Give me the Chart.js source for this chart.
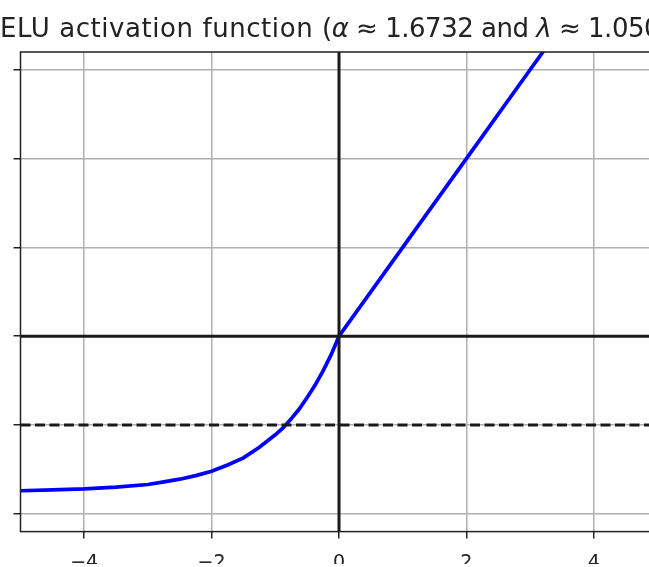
<!DOCTYPE html>
<html>
<head>
<meta charset="utf-8">
<script src="https://cdn.jsdelivr.net/npm/chart.js@4/dist/chart.umd.min.js"></script>
<style>
  html, body { margin: 0; padding: 0; background: #fff; overflow: hidden; }
  #wrap { position: absolute; left: -60px; top: 0; width: 798px; height: 567px; }
</style>
</head>
<body>
<div id="wrap"><canvas id="c" width="798" height="567"></canvas></div>
<script>
// curve
var curveX = [-5, -4.5, -4, -3.5, -3, -2.75, -2.5, -2.25, -2, -1.75, -1.5, -1.25, -1, -0.875, -0.75, -0.625, -0.5, -0.375, -0.25, -0.125, 0, 1, 2, 3, 4, 5];
var curveY = [-1.74, -1.73, -1.72, -1.70, -1.67, -1.64, -1.61, -1.57, -1.52, -1.45, -1.37, -1.25, -1.11, -1.03, -0.93, -0.82, -0.69, -0.55, -0.39, -0.21, 0, 1.0, 2.0, 3.0, 4.0, 5.0];
// reference lines
var hLineX = [-5, 5], hLineY = [0, 0];
var vLineX = [0, 0], vLineY = [-2.2, 3.2];
var dashX = [-5, 5], dashY = [-1, -1];
// axes
var xTicks = [-4, -2, 0, 2, 4];
var yTicks = [-2, -1, 0, 1, 2, 3];
var xRange = [-5, 5], yRange = [-2.2, 3.2];
// title, split where matplotlib switches to mathtext (greek letters italic)
var titleHead = "SELU activation function (";
var titleMath = [["\u03b1", true], [" \u2248 1.6732 and ", false], ["\u03bb", true], [" \u2248 1.0507)", false]];

function pts(xs, ys) {
  return xs.map(function(x, i) { return { x: x, y: ys[i] }; });
}
function fmt(v) { return v < 0 ? "\u2212" + Math.abs(v) : "" + v; }

var spines = {
  id: "spines",
  afterDatasetsDraw: function(chart) {
    var a = chart.chartArea, ctx = chart.ctx;
    ctx.save();
    ctx.strokeStyle = "#222";
    ctx.lineWidth = 1.5;
    ctx.strokeRect(a.left, a.top, a.right - a.left, a.bottom - a.top);
    ctx.restore();
  }
};

// matplotlib-like title: plain part hinted a bit wider, math part a bit tighter
var mplTitle = {
  id: "mplTitle",
  afterDraw: function(chart) {
    var ctx = chart.ctx, size = 26, y = 36.7;
    var parenX = chart.chartArea.left + 301.5;   // where "(" starts
    var fam = "'DejaVu Sans', sans-serif";
    function font(it) { return (it ? "italic " : "") + size + "px " + fam; }
    ctx.save();
    ctx.fillStyle = "#222";
    ctx.textBaseline = "alphabetic";
    ctx.textAlign = "left";
    ctx.font = font(false);
    ctx.letterSpacing = "0px";
    var ls1 = (305 - ctx.measureText("LU activation function ").width) / 23;
    ctx.letterSpacing = ls1 + "px";
    var x = parenX - ctx.measureText(titleHead.slice(0, -1)).width;
    ctx.fillText(titleHead, x, y);
    // tighten the math part so "(" ... "1.05" spans like the original
    ctx.letterSpacing = "0px";
    var w = ctx.measureText("(").width, n = 1;
    var probe = [["\u03b1", true], [" \u2248 1.6732 and ", false], ["\u03bb", true], [" \u2248 1.05", false]];
    probe.forEach(function(s) { ctx.font = font(s[1]); w += ctx.measureText(s[0]).width; n += s[0].length; });
    var ls2 = (322 - w) / n;
    ctx.font = font(false);
    ctx.letterSpacing = ls2 + "px";
    x = parenX + ctx.measureText("(").width;
    titleMath.forEach(function(s) {
      ctx.font = font(s[1]);
      ctx.fillText(s[0], x, y);
      x += ctx.measureText(s[0]).width;
    });
    ctx.restore();
  }
};

Chart.defaults.font.family = "'DejaVu Sans', sans-serif";

new Chart(document.getElementById("c").getContext("2d"), {
  type: "line",
  data: {
    datasets: [
      { data: pts(curveX, curveY), borderColor: "#0000ff", borderWidth: 3.7, pointRadius: 0, tension: 0, order: 2 },
      { data: pts(hLineX, hLineY), borderColor: "#1a1a1a", borderWidth: 3, pointRadius: 0, order: 1 },
      { data: pts(dashX, dashY), borderColor: "#1a1a1a", borderWidth: 3, borderDash: [10, 4.5], pointRadius: 0, order: 1 },
      { data: pts(vLineX, vLineY), borderColor: "#1a1a1a", borderWidth: 3, pointRadius: 0, order: 1 }
    ]
  },
  options: {
    responsive: false,
    animation: false,
    layout: { padding: { top: 52, left: 0, right: 0, bottom: 0 } },
    plugins: {
      legend: { display: false },
      tooltip: { enabled: false },
      title: { display: false }
    },
    scales: {
      x: {
        type: "linear",
        min: xRange[0], max: xRange[1],
        afterBuildTicks: function(s) { s.ticks = xTicks.map(function(v) { return { value: v }; }); },
        afterFit: function(s) { s.height = 32.5; },
        grid: { color: "#b0b0b0", lineWidth: 1.5, tickLength: 7, tickColor: "#222", tickWidth: 1.5 },
        border: { display: false },
        ticks: { color: "#222", font: { size: 19 }, padding: 13, maxRotation: 0, callback: fmt }
      },
      y: {
        type: "linear",
        min: yRange[0], max: yRange[1],
        afterBuildTicks: function(s) { s.ticks = yTicks.map(function(v) { return { value: v }; }); },
        afterFit: function(s) { s.width = 80.5; },
        grid: { color: "#b0b0b0", lineWidth: 1.5, tickLength: 7, tickColor: "#222", tickWidth: 1.5 },
        border: { display: false },
        ticks: { color: "#222", font: { size: 19 }, padding: 24, callback: fmt }
      },
      yPad: {
        type: "linear",
        position: "right",
        min: yRange[0], max: yRange[1],
        afterFit: function(s) { s.width = 80.5; },
        grid: { drawOnChartArea: false, drawTicks: false },
        border: { display: false },
        ticks: { display: false }
      }
    }
  },
  plugins: [spines, mplTitle]
});
</script>
</body>
</html>
